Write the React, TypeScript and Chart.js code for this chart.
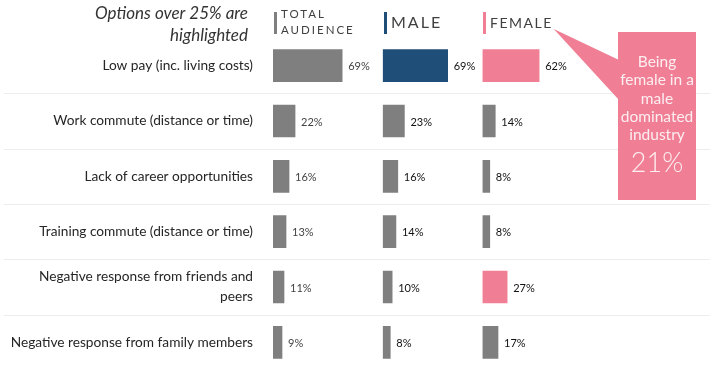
import { useEffect, useRef } from 'react';
import { Chart, registerables } from 'chart.js';

Chart.register(...registerables);

const categories: (string | string[])[] = [
  'Low pay (inc. living costs)',
  'Work commute (distance or time)',
  'Lack of career opportunities',
  'Training commute (distance or time)',
  ['Negative response from friends and', 'peers'],
  'Negative response from family members',
];
const totalValues = [69, 22, 16, 13, 11, 9];
const maleValues = [69, 23, 16, 14, 10, 8];
const femaleValues = [62, 14, 8, 8, 27, 17];
const highlightThreshold = 25;
const seriesNames = ['Total audience', 'Male', 'Female'];
const columnHeaders = [['TOTAL', 'AUDIENCE'], ['MALE'], ['FEMALE']];
const noteLines = ['Options over 25% are', 'highlighted'];
const calloutLines = ['Being', 'female in a', 'male', 'dominated', 'industry'];
const calloutValue = '21%';

const FONT = 'Lato, "Noto Sans", sans-serif';
const GRAY = '#7f7f7f';
const BLUE = '#1f4e79';
const PINK = '#f07f95';

export default function App() {
  const ref = useRef<HTMLCanvasElement>(null);

  useEffect(() => {
    document.body.style.margin = '0';
    const canvas = ref.current!;
    const colorsFor = (vals: number[], base: string) =>
      vals.map((v) => (v > highlightThreshold ? base : GRAY));

    const decor = {
      id: 'decor',
      beforeDatasetsDraw(chart: any) {
        const { ctx } = chart;
        const y = chart.scales.y;
        ctx.save();
        ctx.strokeStyle = '#ededed';
        ctx.lineWidth = 1;
        for (let i = 1; i < categories.length; i++) {
          const yy = Math.round((y.getPixelForTick(i - 1) + y.getPixelForTick(i)) / 2) + 0.5;
          ctx.beginPath();
          ctx.moveTo(4, yy);
          ctx.lineTo(chart.width, yy);
          ctx.stroke();
        }
        ctx.restore();
      },
      afterDatasetsDraw(chart: any) {
        const { ctx } = chart;
        ctx.save();
        ctx.font = `11px ${FONT}`;
        ctx.textBaseline = 'middle';
        ctx.textAlign = 'left';
        chart.data.datasets.forEach((ds: any, di: number) => {
          const meta = chart.getDatasetMeta(di);
          ctx.fillStyle = di === 0 ? '#444' : '#111';
          meta.data.forEach((bar: any, i: number) => {
            ctx.fillText(`${ds.data[i]}%`, bar.x + 6, bar.y + 1);
          });
        });
        ctx.restore();
      },
      afterDraw(chart: any) {
        const { ctx } = chart;
        ctx.save();
        // note
        ctx.fillStyle = '#333';
        ctx.font = `italic 17px ${FONT}`;
        ctx.textAlign = 'right';
        ctx.textBaseline = 'middle';
        ctx.fillText(noteLines[0], 248, 14);
        ctx.fillText(noteLines[1], 248, 36);

        // column headers
        const ids = ['xT', 'xM', 'xF'];
        const barColors = [GRAY, BLUE, PINK];
        const sizes = [11.5, 16, 14];
        const spacing = ['2px', '2px', '1.5px'];
        let femaleTextEnd = 0;
        ids.forEach((id, k) => {
          const sc = chart.scales[id];
          const left = Math.round(sc.left);
          ctx.fillStyle = barColors[k];
          ctx.fillRect(left + 1, 12, 3, 22);
          ctx.fillStyle = '#404040';
          ctx.font = `${sizes[k]}px ${FONT}`;
          (ctx as any).letterSpacing = spacing[k];
          ctx.textAlign = 'left';
          const lines = columnHeaders[k];
          if (lines.length === 2) {
            ctx.fillText(lines[0], left + 8, 14);
            ctx.fillText(lines[1], left + 8, 30);
          } else {
            ctx.fillText(lines[0], left + 8, 23);
            if (k === 2) femaleTextEnd = left + 8 + ctx.measureText(lines[0]).width;
          }
          (ctx as any).letterSpacing = '0px';
        });

        // callout
        const bx = chart.width - 92;
        const bw = 78;
        const by = 32;
        const bh = 168;
        ctx.fillStyle = PINK;
        ctx.beginPath();
        ctx.moveTo(femaleTextEnd + 1, 29);
        ctx.lineTo(bx + 1, 60);
        ctx.lineTo(bx + 1, 100);
        ctx.closePath();
        ctx.fill();
        ctx.fillRect(bx, by, bw, bh);
        ctx.fillStyle = '#fdeef1';
        ctx.textAlign = 'center';
        ctx.font = `15.5px ${FONT}`;
        const cx = bx + bw / 2;
        calloutLines.forEach((t, i) => ctx.fillText(t, cx, 62 + i * 18.3));
        ctx.font = `300 27px ${FONT}`;
        ctx.fillText(calloutValue, cx, 163);
        ctx.restore();
      },
    };

    const hiddenAxis = (weight: number, stackWeight: number, max: number) => ({
      type: 'linear' as const,
      position: 'bottom' as const,
      stack: 'cols',
      stackWeight,
      weight,
      min: 0,
      max,
      display: false,
    });

    const chart = new Chart(canvas, {
      type: 'bar',
      data: {
        labels: categories as any,
        datasets: [
          { label: seriesNames[0], data: totalValues, xAxisID: 'xT', yAxisID: 'y', backgroundColor: colorsFor(totalValues, GRAY) },
          { label: seriesNames[1], data: maleValues, xAxisID: 'xM', yAxisID: 'y', backgroundColor: colorsFor(maleValues, BLUE) },
          { label: seriesNames[2], data: femaleValues, xAxisID: 'xF', yAxisID: 'y', backgroundColor: colorsFor(femaleValues, PINK) },
        ],
      },
      options: {
        indexAxis: 'y',
        responsive: false,
        animation: false,
        layout: { padding: { top: 38, bottom: 4, left: 0, right: 0 } },
        datasets: { bar: { grouped: false, barThickness: 32 } } as any,
        plugins: { legend: { display: false }, tooltip: { enabled: false } },
        scales: {
          y: {
            type: 'category',
            position: 'left',
            offset: true,
            grid: { display: false, drawTicks: false },
            border: { display: false },
            ticks: {
              autoSkip: false,
              padding: 20,
              color: '#262626',
              font: { family: FONT, size: 13.7, lineHeight: 1.46 },
            },
            afterFit: (s: any) => {
              s.width = 273;
              s.paddingTop = 0;
              s.paddingBottom = 0;
            },
          },
          xT: hiddenAxis(1, 109.5, 109.5),
          xM: hiddenAxis(2, 99.5, 106),
          xF: hiddenAxis(3, 227, 249),
        } as any,
      },
      plugins: [decor],
    });
    return () => chart.destroy();
  }, []);

  return (
    <div style={{ width: 710, height: 374 }}>
      <canvas ref={ref} width={710} height={374} />
    </div>
  );
}
